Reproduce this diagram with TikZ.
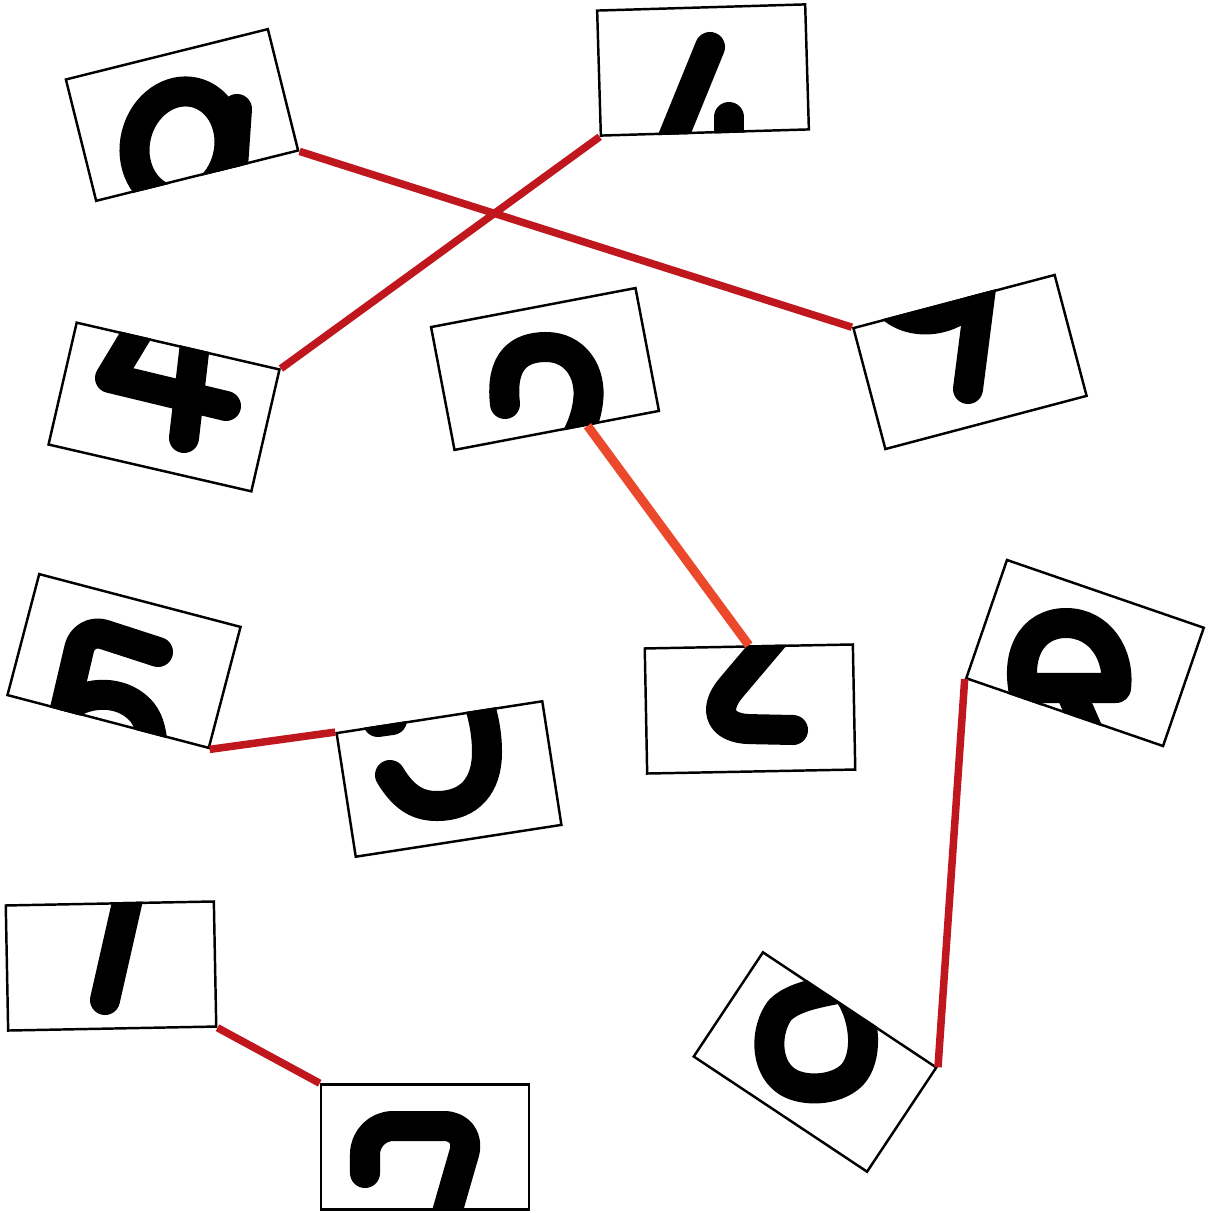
\documentclass[tikz,border=0pt]{standalone}
\usepackage{tikz}
\usepackage{xcolor}
\definecolor{cutred}{RGB}{192,22,30}
\definecolor{cutorange}{RGB}{236,72,44}

\begin{document}
\begin{tikzpicture}[
      x=0.01cm, y=-0.01cm,
      card/.style={draw, fill=white, line width=0.7pt, minimum width=2.08cm,
                   minimum height=1.25cm, inner sep=0pt},
      glyph/.style={line width=0.30cm, line cap=round, line join=round},
      link/.style={line width=0.075cm, cutred}
  ]
    \fill[white] (0,0) rectangle (1211,1213);
    \useasboundingbox (0,0) rectangle (1211,1213);

    % --- Cards (each digit cut in two halves) ---
    \node[card, rotate=14]    (c9a) at (182,115)  {};
    \node[card, rotate=1.7]   (c4a) at (703,70)   {};
    \node[card, rotate=-13]   (c4b) at (164,407)  {};
    \node[card, rotate=10.8]  (c2a) at (545,369)  {};
    \node[card, rotate=14.8]  (c9b) at (970,362)  {};
    \node[card, rotate=-14.7] (c5a) at (124,661)  {};
    \node[card, rotate=8.8]   (c5b) at (449,779)  {};
    \node[card, rotate=1.1]   (c2b) at (750,709)  {};
    \node[card, rotate=-19]   (c8a) at (1085,653) {};
    \node[card, rotate=1.1]   (c7b) at (111,966)  {};
    \node[card, rotate=0]     (c7a) at (425,1147) {};
    \node[card, rotate=-33.6] (c8b) at (815,1062) {};

    % --- Digit pieces, clipped to their card ---
    \begin{scope}
      \clip (c9a.north west) -- (c9a.north east) -- (c9a.south east) -- (c9a.south west) -- cycle;
      \draw[glyph, rotate around={-14:(182,146)}] (182,146) ellipse [x radius=47, y radius=55];
      \draw[glyph] (237,109) -- (230,210);
    \end{scope}
    \begin{scope}
      \clip (c9b.north west) -- (c9b.north east) -- (c9b.south east) -- (c9b.south west) -- cycle;
      \draw[glyph] (878,285) .. controls (888,328) and (952,332) .. (978,290);
      \draw[glyph] (982,280) -- (968,389);
    \end{scope}
    \begin{scope}
      \clip (c4a.north west) -- (c4a.north east) -- (c4a.south east) -- (c4a.south west) -- cycle;
      \draw[glyph] (710,47) -- (668,150);
      \draw[glyph] (729,117) -- (729,150);
    \end{scope}
    \begin{scope}
      \clip (c4b.north west) -- (c4b.north east) -- (c4b.south east) -- (c4b.south west) -- cycle;
      \draw[glyph] (142,325) -- (110,378) -- (226,406);
      \draw[glyph] (196,335) -- (184,438);
    \end{scope}
    \begin{scope}
      \clip (c2a.north west) -- (c2a.north east) -- (c2a.south east) -- (c2a.south west) -- cycle;
      \draw[glyph] (505,404) .. controls (500,360) and (520,347) .. (546,347)
        .. controls (575,347) and (592,372) .. (588,402)
        .. controls (586,418) and (580,432) .. (572,445);
    \end{scope}
    \begin{scope}
      \clip (c2b.north west) -- (c2b.north east) -- (c2b.south east) -- (c2b.south west) -- cycle;
      \draw[glyph, rounded corners=15] (780,630) -- (697,728) -- (793,730);
    \end{scope}
    \begin{scope}
      \clip (c5a.north west) -- (c5a.north east) -- (c5a.south east) -- (c5a.south west) -- cycle;
      \draw[glyph, rounded corners=6] (158,652) -- (84,628) -- (62,722);
      \draw[glyph] (72,703) .. controls (95,690) and (125,692) .. (142,712)
        .. controls (150,722) and (152,735) .. (153,750);
    \end{scope}
    \begin{scope}
      \clip (c5b.north west) -- (c5b.north east) -- (c5b.south east) -- (c5b.south west) -- cycle;
      \draw[glyph] (390,775) .. controls (405,800) and (420,806) .. (437,806)
        .. controls (470,806) and (487,785) .. (487,752)
        .. controls (487,735) and (484,718) .. (478,700);
      \draw[glyph] (378,722) -- (392,720);
    \end{scope}
    \begin{scope}
      \clip (c8a.north west) -- (c8a.north east) -- (c8a.south east) -- (c8a.south west) -- cycle;
      \draw[glyph] (1027,705) .. controls (1012,655) and (1032,623) .. (1066,623)
        .. controls (1100,623) and (1120,655) .. (1116,688) -- (1030,688);
      \draw[glyph] (1070,690) -- (1092,740);
    \end{scope}
    \begin{scope}
      \clip (c8b.north west) -- (c8b.north east) -- (c8b.south east) -- (c8b.south west) -- cycle;
      \draw[glyph] (875,980) .. controls (850,990) and (800,990) .. (780,1010)
        .. controls (765,1030) and (765,1065) .. (785,1080)
        .. controls (800,1092) and (835,1092) .. (852,1075)
        .. controls (868,1058) and (866,1020) .. (850,995) -- (835,975);
    \end{scope}
    \begin{scope}
      \clip (c7b.north west) -- (c7b.north east) -- (c7b.south east) -- (c7b.south west) -- cycle;
      \draw[glyph] (130,890) -- (105,1000);
    \end{scope}
    \begin{scope}
      \clip (c7a.north west) -- (c7a.north east) -- (c7a.south east) -- (c7a.south west) -- cycle;
      \draw[glyph, rounded corners=8] (365,1173) -- (365,1126) -- (472,1126) -- (442,1230);
    \end{scope}

    % --- Links between matching halves ---
    \draw[link] (c9a.south east) -- (c9b.north west);
    \draw[link] (c4a.south west) -- (c4b.north east);
    \draw[link, cutorange, line width=0.09cm] (c2a.-64) -- (c2b.north);
    \draw[link] (c5a.south east) -- (c5b.north west);
    \draw[link] (c8a.south west) -- (c8b.north east);
    \draw[link] (c7b.south east) -- (c7a.north west);

  \end{tikzpicture}
\end{document}
